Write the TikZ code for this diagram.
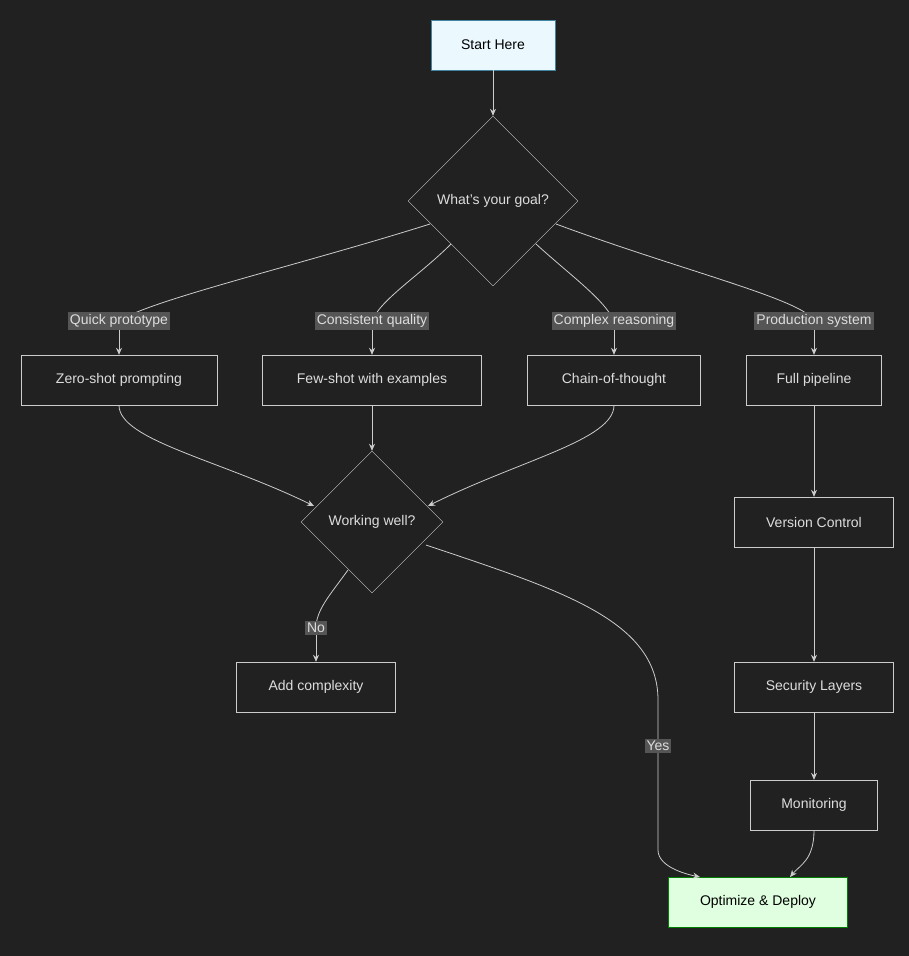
\documentclass[tikz,border=0pt]{standalone}
\usepackage{fontspec}
\setmainfont{Liberation Sans}
\usetikzlibrary{shapes.geometric,arrows.meta}
\definecolor{bg}{HTML}{212121}
\definecolor{ln}{HTML}{CCCCCC}
\definecolor{tx}{HTML}{DDDDDD}
\definecolor{lb}{HTML}{555555}
\begin{document}
\begin{tikzpicture}[x=1pt,y=-1pt,
  font=\fontsize{14}{16}\selectfont,
  box/.style={draw=ln,fill=bg,text=tx,minimum height=50pt,inner sep=0pt},
  dia/.style={diamond,draw=ln,fill=bg,text=tx,aspect=1,inner sep=0pt},
  lab/.style={fill=lb,text=tx,inner sep=2pt},
  e/.style={draw=ln,line width=0.8pt,-{Stealth[length=7pt,width=6pt]}},
  p/.style={draw=ln,line width=0.8pt}]
\fill[bg] (0,0) rectangle (909,956);
\useasboundingbox (0,0) rectangle (909,956);
\node[box,fill=cyan!8,draw=cyan!60!black,text=black,minimum width=124pt] (start) at (493,45) {Start Here};
\node[dia,minimum size=170pt] (goal) at (493,201) {What's your goal?};
\node[box,minimum width=196pt] (zero) at (119,380) {Zero-shot prompting};
\node[box,minimum width=219pt] (few) at (372,380) {Few-shot with examples};
\node[box,minimum width=173pt] (cot) at (614,380) {Chain-of-thought};
\node[box,minimum width=135pt] (full) at (814,380) {Full pipeline};
\node[dia,minimum size=142pt] (work) at (372,522) {Working well?};
\node[box,minimum width=159pt] (ver) at (814,522) {Version Control};
\node[box,minimum width=159pt] (add) at (316,687) {Add complexity};
\node[box,minimum width=159pt] (sec) at (814,687) {Security Layers};
\node[box,minimum width=127pt] (mon) at (814,805) {Monitoring};
\node[box,fill=green!12!white,draw=green!50!black,text=black,minimum width=179pt] (opt) at (758,902) {Optimize \& Deploy};
\draw[e] (start) -- (goal);
\coordinate (g1) at (430,224);
\coordinate (g2) at (451,244);
\coordinate (g3) at (536,244);
\coordinate (g4) at (556,224);
\draw[p] (g1) .. controls (300,265) and (150,300) .. (119,321);
\draw[p] (g2) .. controls (420,275) and (380,300) .. (372,321);
\draw[p] (g3) .. controls (570,275) and (605,300) .. (614,321);
\draw[p] (g4) .. controls (680,270) and (805,300) .. (814,321);
\node[lab] (l1) at (119,321) {Quick prototype};
\node[lab] (l2) at (372,321) {Consistent quality};
\node[lab] (l3) at (614,321) {Complex reasoning};
\node[lab] (l4) at (814,321) {Production system};
\draw[e] (l1) -- (zero);
\draw[e] (l2) -- (few);
\draw[e] (l3) -- (cot);
\draw[e] (l4) -- (full);
\coordinate (w1) at (314,506);
\coordinate (w2) at (428,506);
\draw[e] (zero.south) .. controls (119,440) and (220,460) .. (w1);
\draw[e] (few) -- (work);
\draw[e] (cot.south) .. controls (614,440) and (520,460) .. (w2);
\coordinate (wn) at (348,570);
\coordinate (wy) at (426,545);
\draw[p] (wn) .. controls (330,595) and (316,610) .. (316,628);
\node[lab] (no) at (316,628) {No};
\draw[e] (no) -- (add);
\draw[p] (wy) .. controls (560,590) and (658,620) .. (658,700) -- (658,746);
\node[lab] (yes) at (658,746) {Yes};
\draw[e] (yes) -- (658,850) .. controls (658,868) and (690,875) .. (700,877);
\draw[e] (full) -- (ver);
\draw[e] (ver) -- (sec);
\draw[e] (sec) -- (mon);
\draw[e] (mon.south) .. controls (814,860) and (800,865) .. (790,877);
\end{tikzpicture}
\end{document}
